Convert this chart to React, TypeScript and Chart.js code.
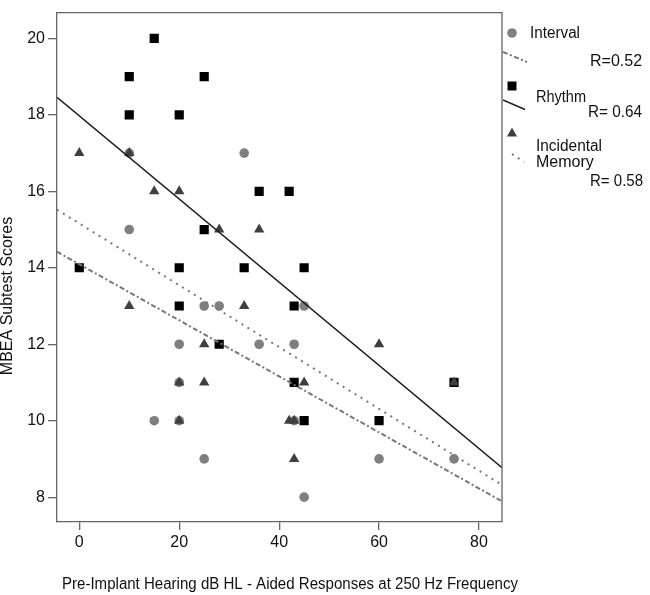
import { useEffect, useRef } from 'react';
import { Chart, registerables } from 'chart.js';

Chart.register(...registerables);

const FONT = "'Liberation Sans', Arial, sans-serif";

const xTicks = [0, 20, 40, 60, 80];
const yTicks = [8, 10, 12, 14, 16, 18, 20];

// Interval (grey circles)
const intervalX = [10, 33, 10, 25, 28, 45, 20, 36, 43, 20, 15, 20, 43, 25, 60, 75, 45];
const intervalY = [17, 17, 15, 13, 13, 13, 12, 12, 12, 11, 10, 10, 10, 9, 9, 9, 8];

// Rhythm (black squares)
const rhythmX = [15, 10, 25, 10, 20, 36, 42, 25, 0, 20, 33, 45, 20, 43, 28, 43, 75, 45, 60];
const rhythmY = [20, 19, 19, 18, 18, 16, 16, 15, 14, 14, 14, 14, 13, 13, 12, 11, 11, 10, 10];

// Incidental Memory (dark triangles)
const memoryX = [0, 10, 15, 20, 28, 36, 10, 33, 25, 60, 20, 25, 45, 75, 20, 42, 43, 43];
const memoryY = [17, 17, 16, 16, 15, 15, 13, 13, 12, 12, 11, 11, 11, 11, 10, 10, 10, 9];

const fitX = [-4.46, 84.6];
const intervalFit = [14.42, 7.89];
const rhythmFit = [18.46, 8.77];
const memoryFit = [15.52, 8.32];

const seriesNames = ['Interval', 'Rhythm', 'Incidental Memory'];
const rLabels = ['R=0.52', 'R= 0.64', 'R= 0.58'];

const xTitle = 'Pre-Implant Hearing dB HL - Aided Responses at 250 Hz Frequency';
const yTitle = 'MBEA Subtest Scores';

const toPoints = (xs: number[], ys: number[]) => xs.map((x, i) => ({ x, y: ys[i] }));

const annotate = {
  id: 'annotate',
  afterDraw(chart: any) {
    const { ctx, chartArea } = chart;
    const { left, top, right, bottom } = chartArea;
    ctx.save();

    // frame top and right
    ctx.strokeStyle = '#666';
    ctx.lineWidth = 1.3;
    ctx.beginPath();
    ctx.moveTo(left, top);
    ctx.lineTo(right, top);
    ctx.lineTo(right, bottom);
    ctx.stroke();

    // axis titles
    ctx.fillStyle = '#111';
    ctx.font = `16px ${FONT}`;
    ctx.textAlign = 'center';
    ctx.textBaseline = 'middle';
    ctx.fillText(xTitle, 290, 585, 456);
    ctx.save();
    ctx.translate(8, 296);
    ctx.rotate(-Math.PI / 2);
    ctx.fillText(yTitle, 0, 0, 170);
    ctx.restore();

    // legend
    const mx = right + 10;
    ctx.textAlign = 'left';
    ctx.font = `16px ${FONT}`;

    // Interval
    ctx.fillStyle = '#7f7f7f';
    ctx.beginPath();
    ctx.arc(mx, 33, 4.8, 0, Math.PI * 2);
    ctx.fill();
    ctx.fillStyle = '#111';
    ctx.fillText(seriesNames[0], right + 28, 34, 50);
    ctx.fillText(rLabels[0], right + 88, 62, 53);
    ctx.strokeStyle = '#777';
    ctx.lineWidth = 2;
    ctx.setLineDash([5, 2.5, 2, 2.5]);
    ctx.beginPath();
    ctx.moveTo(right + 1, 52);
    ctx.lineTo(right + 25, 62);
    ctx.stroke();

    // Rhythm
    ctx.setLineDash([]);
    ctx.fillStyle = '#000';
    ctx.fillRect(mx - 4.5, 81.5, 9, 9);
    ctx.fillStyle = '#111';
    ctx.fillText(seriesNames[1], right + 34, 98, 50);
    ctx.fillText(rLabels[1], right + 86, 113, 54);
    ctx.strokeStyle = '#222';
    ctx.lineWidth = 1.5;
    ctx.beginPath();
    ctx.moveTo(right + 1, 100);
    ctx.lineTo(right + 23, 109.5);
    ctx.stroke();

    // Incidental Memory
    ctx.fillStyle = '#3f3f3f';
    ctx.beginPath();
    ctx.moveTo(mx, 127.5);
    ctx.lineTo(mx + 5, 136.5);
    ctx.lineTo(mx - 5, 136.5);
    ctx.closePath();
    ctx.fill();
    ctx.fillStyle = '#111';
    const [w1, w2] = seriesNames[2].split(' ');
    ctx.fillText(w1, right + 34, 147, 66);
    ctx.fillText(w2, right + 34, 163, 60);
    ctx.fillText(rLabels[2], right + 88, 182, 53);
    ctx.strokeStyle = '#777';
    ctx.lineWidth = 2;
    ctx.setLineDash([2, 5]);
    ctx.beginPath();
    ctx.moveTo(right + 10, 154);
    ctx.lineTo(right + 22, 162);
    ctx.stroke();

    ctx.restore();
  },
};

export default function App() {
  const canvasRef = useRef<HTMLCanvasElement>(null);
  const chartRef = useRef<Chart | null>(null);

  useEffect(() => {
    document.body.style.margin = '0';
    const ctx = canvasRef.current?.getContext('2d');
    if (!ctx) return;
    if (chartRef.current) chartRef.current.destroy();

    const tickFont = { family: FONT, size: 16 };
    const axisColor = '#666';

    chartRef.current = new Chart(ctx, {
      type: 'scatter',
      data: {
        datasets: [
          {
            type: 'line',
            label: 'Rhythm fit',
            data: toPoints(fitX, rhythmFit),
            borderColor: '#1a1a1a',
            borderWidth: 1.5,
            pointRadius: 0,
            fill: false,
            order: 0,
          },
          {
            type: 'line',
            label: 'Incidental Memory fit',
            data: toPoints(fitX, memoryFit),
            borderColor: '#777',
            borderWidth: 2,
            borderDash: [2, 5],
            pointRadius: 0,
            fill: false,
            order: 0,
          },
          {
            type: 'line',
            label: 'Interval fit',
            data: toPoints(fitX, intervalFit),
            borderColor: '#777',
            borderWidth: 2,
            borderDash: [5, 2.5, 2, 2.5],
            pointRadius: 0,
            fill: false,
            order: 0,
          },
          {
            label: seriesNames[2],
            data: toPoints(memoryX, memoryY),
            pointStyle: 'triangle',
            pointRadius: 6,
            backgroundColor: '#3f3f3f',
            borderColor: '#3f3f3f',
            borderWidth: 0,
            order: 1,
          },
          {
            label: seriesNames[1],
            data: toPoints(rhythmX, rhythmY),
            pointStyle: 'rect',
            pointRadius: 6.5,
            backgroundColor: '#000',
            borderColor: '#000',
            borderWidth: 0,
            order: 2,
          },
          {
            label: seriesNames[0],
            data: toPoints(intervalX, intervalY),
            pointStyle: 'circle',
            pointRadius: 4.8,
            backgroundColor: '#7f7f7f',
            borderColor: '#7f7f7f',
            borderWidth: 0,
            order: 3,
          },
        ],
      },
      options: {
        animation: false,
        responsive: true,
        maintainAspectRatio: false,
        layout: { padding: { top: 9, right: 148, left: 0, bottom: 0 } },
        plugins: {
          legend: { display: false },
          tooltip: { enabled: false },
        },
        scales: {
          x: {
            type: 'linear',
            min: fitX[0],
            max: fitX[1],
            afterBuildTicks: (s: any) => {
              s.ticks = xTicks.map((value) => ({ value }));
            },
            afterFit: (s: any) => {
              s.height = 73;
            },
            grid: { drawOnChartArea: false, drawTicks: true, tickLength: 8, color: axisColor, lineWidth: 1.3 },
            border: { display: true, color: axisColor, width: 1.3 },
            ticks: { font: tickFont, color: '#111', padding: 3, maxRotation: 0 },
          },
          y: {
            type: 'linear',
            min: 7.35,
            max: 20.675,
            afterBuildTicks: (s: any) => {
              s.ticks = yTicks.map((value) => ({ value }));
            },
            afterFit: (s: any) => {
              s.width = 57;
            },
            grid: { drawOnChartArea: false, drawTicks: true, tickLength: 9, color: axisColor, lineWidth: 1.3 },
            border: { display: true, color: axisColor, width: 1.3 },
            ticks: { font: tickFont, color: '#111', padding: 3 },
          },
        },
      },
      plugins: [annotate],
    });

    return () => {
      if (chartRef.current) chartRef.current.destroy();
      chartRef.current = null;
    };
  }, []);

  return (
    <div style={{ position: 'relative', width: 650, height: 595, background: '#fff' }}>
      <canvas ref={canvasRef}></canvas>
    </div>
  );
}
